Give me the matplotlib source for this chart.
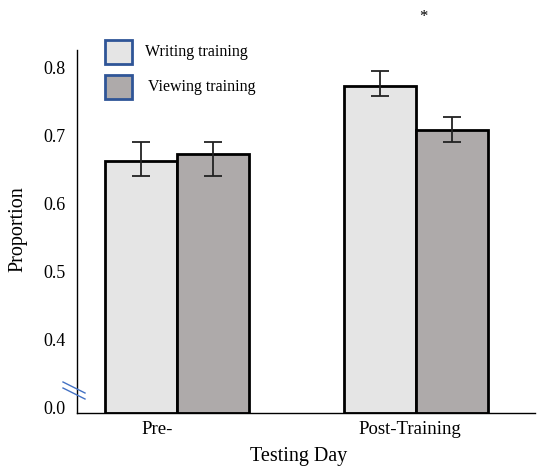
import numpy as np
import matplotlib
matplotlib.use('Agg')
import matplotlib.pyplot as plt
from matplotlib.patches import Rectangle
from matplotlib.lines import Line2D

plt.rcParams['font.family'] = ['Liberation Serif', 'DejaVu Serif']

# Data
days = ['Pre-', 'Post-Training']
series = ['Writing training', 'Viewing training']
writing = [0.663, 0.774]
viewing = [0.673, 0.709]
writing_err_lo = [0.022, 0.015]
writing_err_hi = [0.028, 0.021]
viewing_err_lo = [0.032, 0.018]
viewing_err_hi = [0.018, 0.018]
ytick_vals = [0.3, 0.4, 0.5, 0.6, 0.7, 0.8]
ytick_labels = ['0.0', '0.4', '0.5', '0.6', '0.7', '0.8']

W, H = 537, 469
fig = plt.figure(figsize=(W / 100, H / 100), dpi=100, facecolor='white')

def fx(px):
    return px / W

def fy(py):
    return 1 - py / H

ax_left, ax_right, ax_top, ax_bottom = 77, 535, 10, 413
ax = fig.add_axes([fx(ax_left), fy(ax_bottom), fx(ax_right) - fx(ax_left), fy(ax_top) - fy(ax_bottom)])

ymin, ymax = 0.2926, 0.885
x = np.arange(len(days))
width = 0.301

col_w = '#E5E5E5'
col_v = '#AEAAAA'
ax.bar(x - width / 2, np.array(writing) - ymin, width, bottom=ymin, color=col_w,
       edgecolor='black', linewidth=2.0, zorder=2)
ax.bar(x + width / 2, np.array(viewing) - ymin, width, bottom=ymin, color=col_v,
       edgecolor='black', linewidth=2.0, zorder=2)
ax.errorbar(x - width / 2, writing, yerr=[writing_err_lo, writing_err_hi], fmt='none',
            ecolor='#222222', elinewidth=1.3, capsize=6.5, capthick=1.3, zorder=3)
ax.errorbar(x + width / 2, viewing, yerr=[viewing_err_lo, viewing_err_hi], fmt='none',
            ecolor='#222222', elinewidth=1.3, capsize=6.5, capthick=1.3, zorder=3)

ax.set_xlim(-0.418, 1.498)
ax.set_ylim(ymin, ymax)
ax.set_yticks(ytick_vals)
ax.set_yticklabels(ytick_labels, fontsize=13)
ax.set_xticks([])
ax.tick_params(axis='y', length=0, pad=8)

for s in ['top', 'right']:
    ax.spines[s].set_visible(False)
ax.spines['left'].set_bounds(ymin, 0.826)
ax.spines['left'].set_linewidth(1.0)
ax.spines['bottom'].set_linewidth(1.0)

# category labels placed as in the reference
fig.text(fx(157), fy(429), days[0], ha='center', va='center', fontsize=13.5)
fig.text(fx(410), fy(429), days[1], ha='center', va='center', fontsize=13.5)
fig.text(fx(299), fy(456), 'Testing Day', ha='center', va='center', fontsize=14.5)
fig.text(fx(18), fy(229), 'Proportion', ha='center', va='center', rotation=90, fontsize=14.5)

# significance star
fig.text(fx(423), fy(17), '*', ha='center', va='center', fontsize=12)

# axis break marks
for dy in (0, 6):
    fig.add_artist(Line2D([fx(63), fx(85)], [fy(382 + dy), fy(393 + dy)], color='#4472C4', linewidth=1.0))

# legend drawn by hand
for (top, col, label, tx) in [(40, col_w, series[0], 145), (75, col_v, series[1], 148)]:
    fig.add_artist(Rectangle((fx(105), fy(top + 24)), fx(27), fy(0) - fy(24), transform=fig.transFigure,
                             facecolor=col, edgecolor='#2F5597', linewidth=2.0))
    fig.text(fx(tx), fy(top + 12), label, ha='left', va='center', fontsize=11.5)

plt.savefig('out.png', dpi=100, facecolor='white')
